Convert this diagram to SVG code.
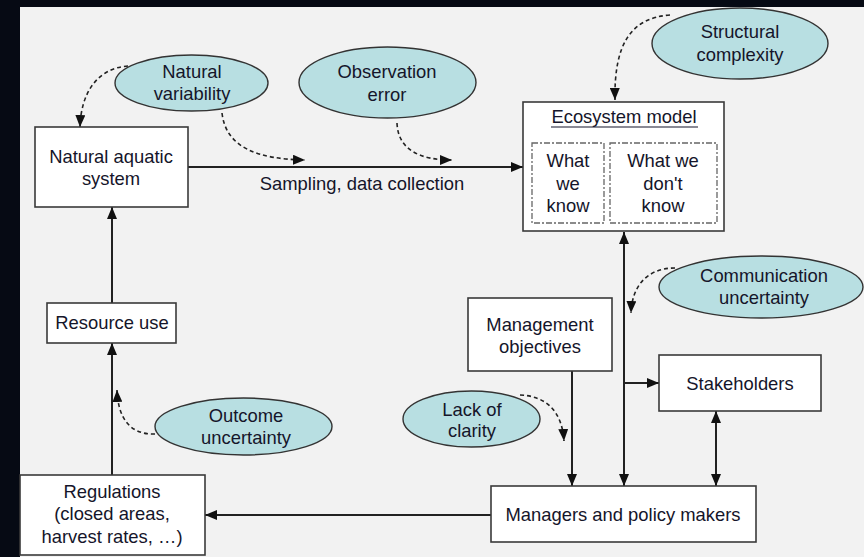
<svg xmlns="http://www.w3.org/2000/svg" width="864" height="557" viewBox="0 0 864 557">
  <style>
    text { font-family: "Liberation Sans", Arial, sans-serif; font-size: 18.4px; fill: #15152a; text-anchor: middle; }
    .box { fill: #ffffff; stroke: #3a3a3a; stroke-width: 1.6; }
    .inner { fill: none; stroke: #666; stroke-width: 1.3; stroke-dasharray: 6 2 2 2; }
    .ell { fill: #b8dfe2; stroke: #333; stroke-width: 1.4; }
    .link { fill: none; stroke: #222; stroke-width: 2; }
    .dash { fill: none; stroke: #222; stroke-width: 1.6; stroke-dasharray: 4 3; }
  </style>
  <defs>
    <marker id="arrow" viewBox="0 0 12 10" refX="12" refY="5" markerWidth="12" markerHeight="10" markerUnits="userSpaceOnUse" orient="auto-start-reverse">
      <path d="M0,0 L12,5 L0,10 z" fill="#111"/>
    </marker>
  </defs>

  <!-- backdrop -->
  <rect x="0" y="0" width="864" height="557" fill="#060a14"/>
  <rect x="20" y="7" width="844" height="550" fill="#f2f2f2"/>

  <!-- solid connectors -->
  <g id="connectors">
    <line class="link" x1="188" y1="167" x2="523" y2="167" marker-end="url(#arrow)"/>
    <line class="link" x1="624" y1="232" x2="624" y2="486" marker-start="url(#arrow)" marker-end="url(#arrow)"/>
    <line class="link" x1="624" y1="383" x2="659" y2="383" marker-end="url(#arrow)"/>
    <line class="link" x1="572" y1="371" x2="572" y2="486" marker-end="url(#arrow)"/>
    <line class="link" x1="716" y1="411" x2="716" y2="486" marker-start="url(#arrow)" marker-end="url(#arrow)"/>
    <line class="link" x1="491" y1="515" x2="205" y2="515" marker-end="url(#arrow)"/>
    <line class="link" x1="112" y1="475" x2="112" y2="343" marker-end="url(#arrow)"/>
    <line class="link" x1="112" y1="303" x2="112" y2="207" marker-end="url(#arrow)"/>

    <!-- dashed uncertainty links -->
    <path class="dash" d="M128,66 C98,68 81,92 80,127" marker-end="url(#arrow)"/>
    <path class="dash" d="M222,113 C226,148 258,159 305,160" marker-end="url(#arrow)"/>
    <path class="dash" d="M397,123 C398,150 420,160 452,160" marker-end="url(#arrow)"/>
    <path class="dash" d="M670,15 C630,18 614,45 615,100" marker-end="url(#arrow)"/>
    <path class="dash" d="M675,268 C648,268 632,285 631,313" marker-end="url(#arrow)"/>
    <path class="dash" d="M520,395 C545,396 562,410 564,441" marker-end="url(#arrow)"/>
    <path class="dash" d="M155,434 C130,435 118,418 117,390" marker-end="url(#arrow)"/>
  </g>

  <g id="natural-aquatic-system">
    <rect class="box" x="35" y="127" width="153" height="80"/>
    <text x="111" y="163">Natural aquatic</text>
    <text x="111" y="185">system</text>
  </g>

  <g id="resource-use">
    <rect class="box" x="47" y="303" width="129" height="40"/>
    <text x="112" y="329">Resource use</text>
  </g>

  <g id="regulations">
    <rect class="box" x="20" y="475" width="185" height="80"/>
    <text x="112" y="498">Regulations</text>
    <text x="112" y="520">(closed areas,</text>
    <text x="112" y="543">harvest rates, …)</text>
  </g>

  <g id="ecosystem-model">
    <rect class="box" x="523" y="102" width="201" height="129"/>
    <text x="624" y="123">Ecosystem model</text>
    <line x1="551" y1="127" x2="698" y2="127" stroke="#15152a" stroke-width="1.2"/>
    <rect class="inner" x="532" y="143" width="72" height="80"/>
    <rect class="inner" x="610" y="143" width="107" height="80"/>
    <text x="568" y="167">What</text>
    <text x="568" y="190">we</text>
    <text x="568" y="212">know</text>
    <text x="663" y="167">What we</text>
    <text x="663" y="190">don't</text>
    <text x="663" y="212">know</text>
  </g>

  <g id="management-objectives">
    <rect class="box" x="468" y="298" width="144" height="73"/>
    <text x="540" y="331">Management</text>
    <text x="540" y="353">objectives</text>
  </g>

  <g id="stakeholders">
    <rect class="box" x="659" y="355" width="162" height="56"/>
    <text x="740" y="390">Stakeholders</text>
  </g>

  <g id="managers">
    <rect class="box" x="491" y="486" width="265" height="56"/>
    <text x="623" y="521">Managers and policy makers</text>
  </g>

  <text x="362" y="190">Sampling, data collection</text>

  <g id="natural-variability">
    <ellipse class="ell" cx="191.5" cy="83" rx="76.5" ry="28"/>
    <text x="192" y="78">Natural</text>
    <text x="192" y="100">variability</text>
  </g>

  <g id="observation-error">
    <ellipse class="ell" cx="387.5" cy="82.5" rx="88.5" ry="35.5"/>
    <text x="387" y="78">Observation</text>
    <text x="387" y="101">error</text>
  </g>

  <g id="structural-complexity">
    <ellipse class="ell" cx="740" cy="43.5" rx="88" ry="35.5"/>
    <text x="740" y="38">Structural</text>
    <text x="740" y="61">complexity</text>
  </g>

  <g id="communication-uncertainty">
    <ellipse class="ell" cx="761" cy="287" rx="102" ry="31"/>
    <text x="764" y="282">Communication</text>
    <text x="764" y="304">uncertainty</text>
  </g>

  <g id="lack-of-clarity">
    <ellipse class="ell" cx="471.5" cy="419" rx="68.5" ry="28"/>
    <text x="472" y="416">Lack of</text>
    <text x="472" y="437">clarity</text>
  </g>

  <g id="outcome-uncertainty">
    <ellipse class="ell" cx="243.5" cy="426.5" rx="88.5" ry="28.5"/>
    <text x="246" y="422">Outcome</text>
    <text x="246" y="444">uncertainty</text>
  </g>
</svg>
